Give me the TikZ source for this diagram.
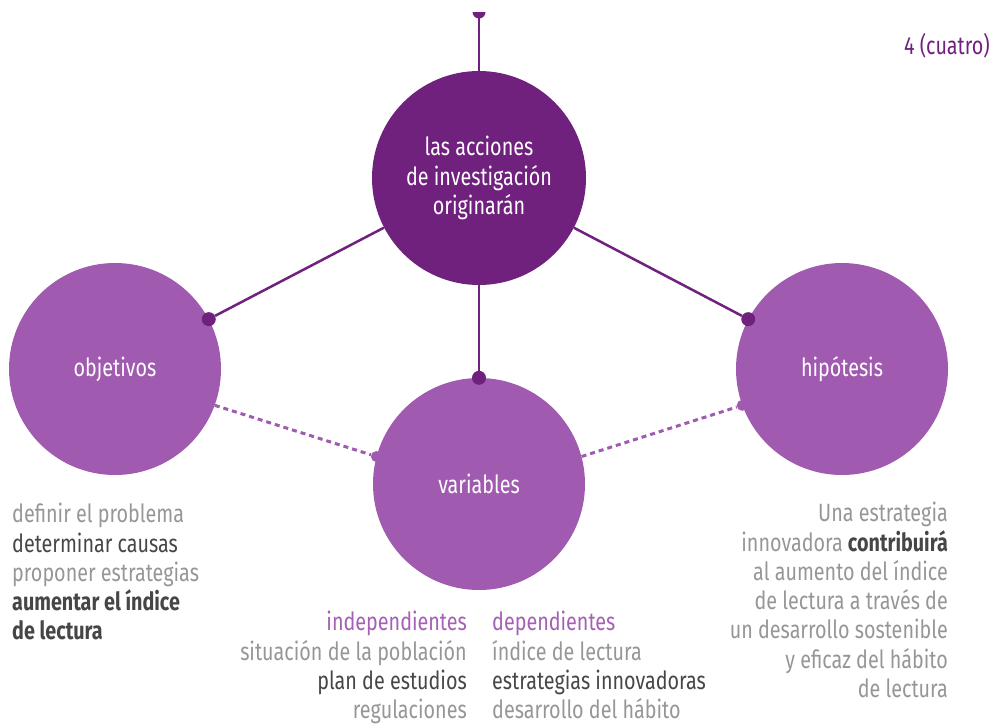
\documentclass[tikz,border=0pt]{standalone}
\usepackage{fontspec}
\setmainfont{Fira Sans}[FakeStretch=0.79]
\usepackage{tikz}
\usetikzlibrary{positioning}
\definecolor{acDark}{RGB}{112,32,125}
\definecolor{acLight}{RGB}{160,90,175}
\definecolor{acHead}{RGB}{165,95,180}
\definecolor{acGray}{RGB}{150,150,150}
\definecolor{acInk}{RGB}{70,70,70}
\tikzset{
    base/.style={font=\fontsize{25}{29.3}\selectfont, align=center},
    hub/.style={base, circle, fill=acDark, text=white, inner sep=0pt, minimum size=214pt},
    topic/.style={base, circle, fill=acLight, text=white, inner sep=0pt, minimum size=212pt},
    dot/.style={circle, fill=acDark, inner sep=0pt, minimum size=14pt},
    bump/.style={circle, fill=acLight, inner sep=0pt, minimum size=11pt},
    link/.style={acDark, line width=2.5pt},
    weak/.style={acLight, line width=3pt, dash pattern=on 5pt off 4pt},
    note/.style={base, text=acGray, inner sep=0pt}
}

\begin{document}
\begin{tikzpicture}[x=1pt, y=-1pt]
  \useasboundingbox (0,0) rectangle (998,726);

  % circles
  \node[hub] (hub) at (479,178) {las acciones\\de investigación\\originarán};
  \node[topic] (obj) at (115,369) {objetivos};
  \node[topic] (hip) at (842,369) {hipótesis};
  \node[topic] (var) at (479,484) {variables};

  % joints on the borders
  \node[dot] (dO) at (obj.28) {};
  \node[dot] (dH) at (hip.152) {};
  \node[dot] (dV) at (var.north) {};
  \node[bump] (bV) at (var.165) {};
  \node[bump] (bH) at (hip.200) {};
  \coordinate (tip) at (479,12);

  % solid links
  \draw[link] (hub) -- (dO);
  \draw[link] (hub) -- (dH);
  \draw[link] (hub) -- (dV);
  \draw[link] (hub.north) -- (tip);
  \fill[acDark] ([xshift=-6.5pt]tip) arc[start angle=180, end angle=360, radius=6.5pt] -- cycle;

  % dashed links
  \draw[weak] (obj.-20) -- (bV);
  \draw[weak] (var.15) -- (bH);

  % texts
  \node[note, anchor=north east, text=acDark] (num) at (990,33) {4 (cuatro)};

  \node[note, anchor=north west, align=left] (goals) at (12,503) {
    definir el problema\\
    \textcolor{acInk}{determinar causas}\\
    proponer estrategias\\
    \textcolor{acInk}{\textbf{aumentar el índice}}\\
    \textcolor{acInk}{\textbf{de lectura}}
  };

  \node[note, anchor=north east, align=right] (indep) at (467,611) {
    \textcolor{acHead}{independientes}\\
    situación de la población\\
    \textcolor{acInk}{plan de estudios}\\
    regulaciones
  };
  \node[note, anchor=north west, align=left] (dep) at (492,611) {
    \textcolor{acHead}{dependientes}\\
    índice de lectura\\
    \textcolor{acInk}{estrategias innovadoras}\\
    desarrollo del hábito
  };

  \node[note, anchor=north east, align=right] (claim) at (948,502) {
    Una estrategia\\
    innovadora \textcolor{acInk}{\textbf{contribuirá}}\\
    al aumento del índice\\
    de lectura a través de\\
    un desarrollo sostenible\\
    y eficaz del hábito\\
    de lectura
  };
\end{tikzpicture}
\end{document}
